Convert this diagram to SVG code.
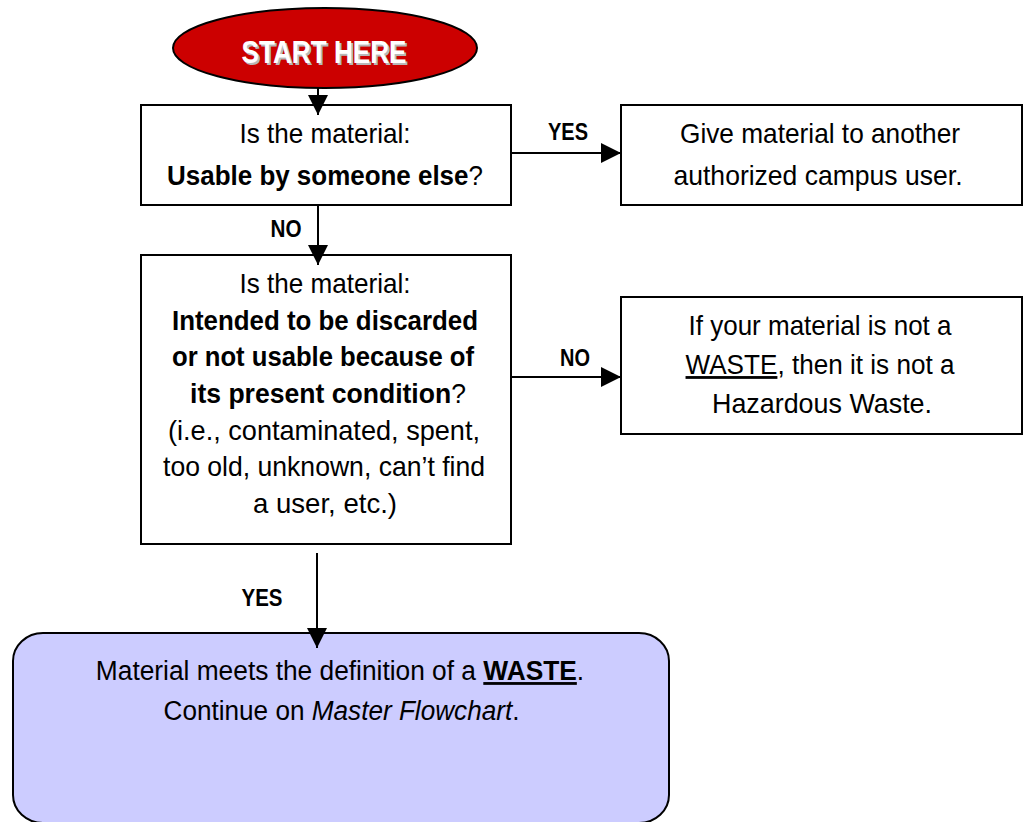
<svg xmlns="http://www.w3.org/2000/svg" width="1031" height="822" viewBox="0 0 1031 822">
<defs>
<marker id="arr" markerUnits="userSpaceOnUse" markerWidth="20" markerHeight="20" viewBox="0 0 20 20" refX="20" refY="10" orient="auto">
<path d="M0,0 L20,10 L0,20 z" fill="#000"/>
</marker>
<style>
.box{fill:#fff;stroke:#000;stroke-width:2}
.t{font-family:"Liberation Sans Narrow","Liberation Sans",Arial,sans-serif;font-size:28px;fill:#000;text-anchor:middle}
.b{font-weight:bold}
.i{font-style:italic}
.u{text-decoration:underline}
.lbl{font-family:"Liberation Sans Narrow","Liberation Sans",Arial,sans-serif;font-size:23px;font-weight:bold;fill:#000;text-anchor:middle}
.conn{stroke:#000;stroke-width:2;fill:none;marker-end:url(#arr)}
</style>
</defs>
<rect width="1031" height="822" fill="#fff"/>

<g id="start">
<ellipse cx="325" cy="48" rx="152" ry="40" fill="#CC0000" stroke="#000" stroke-width="2"/>
<text x="326" y="65" class="t b" style="font-size:32px;fill:#b8b8b8" textLength="165" lengthAdjust="spacingAndGlyphs">START HERE</text>
<text x="324" y="63" class="t b" style="font-size:32px;fill:#fff" textLength="165" lengthAdjust="spacingAndGlyphs">START HERE</text>
</g>

<g id="q1">
<rect class="box" x="141" y="105" width="370" height="100"/>
<text class="t" x="325" y="143" textLength="171" lengthAdjust="spacingAndGlyphs">Is the material:</text>
<text class="t" transform="translate(325,185) scale(0.927,1)" x="0" y="0"><tspan class="b">Usable by someone else</tspan>?</text>
</g>

<g id="give">
<rect class="box" x="621" y="105" width="401" height="100"/>
<text class="t" x="820" y="143" textLength="280" lengthAdjust="spacingAndGlyphs">Give material to another</text>
<text class="t" x="818" y="185" textLength="289" lengthAdjust="spacingAndGlyphs">authorized campus user.</text>
</g>

<g id="q2">
<rect class="box" x="141" y="255" width="370" height="289"/>
<text class="t" x="325" y="293" textLength="171" lengthAdjust="spacingAndGlyphs">Is the material:</text>
<text class="t b" x="325" y="330" textLength="306" lengthAdjust="spacingAndGlyphs">Intended to be discarded</text>
<text class="t b" x="323" y="366" textLength="302" lengthAdjust="spacingAndGlyphs">or not usable because of</text>
<text class="t" transform="translate(328,403) scale(0.949,1)" x="0" y="0"><tspan class="b">its present condition</tspan>?</text>
<text class="t" x="324" y="440" textLength="312" lengthAdjust="spacingAndGlyphs">(i.e., contaminated, spent,</text>
<text class="t" x="324" y="476" textLength="322" lengthAdjust="spacingAndGlyphs">too old, unknown, can’t find</text>
<text class="t" x="325" y="513" textLength="144" lengthAdjust="spacingAndGlyphs">a user, etc.)</text>
</g>

<g id="notwaste">
<rect class="box" x="621" y="297" width="401" height="137"/>
<text class="t" x="820" y="335" textLength="263" lengthAdjust="spacingAndGlyphs">If your material is not a</text>
<text class="t" transform="translate(820,374) scale(0.933,1)" x="0" y="0"><tspan class="u">WASTE</tspan>, then it is not a</text>
<text class="t" x="822" y="413" textLength="220" lengthAdjust="spacingAndGlyphs">Hazardous Waste.</text>
</g>

<g id="waste">
<rect x="13" y="633" width="656" height="190" rx="30" ry="28" fill="#CCCCFF" stroke="#000" stroke-width="2"/>
<text class="t" transform="translate(340,680) scale(0.94,1)" x="0" y="0">Material meets the definition of a <tspan class="b u">WASTE</tspan>.</text>
<text class="t" transform="translate(341.5,720) scale(0.934,1)" x="0" y="0">Continue on <tspan class="i">Master Flowchart</tspan>.</text>
</g>

<g id="connectors">
<line class="conn" x1="318" y1="88" x2="318" y2="115"/>
<line class="conn" x1="318" y1="205" x2="318" y2="265"/>
<line class="conn" x1="511" y1="153" x2="621" y2="153"/>
<line class="conn" x1="511" y1="377" x2="621" y2="377"/>
<line class="conn" x1="317" y1="553" x2="317" y2="648"/>
<text class="lbl" x="568" y="140" textLength="40" lengthAdjust="spacingAndGlyphs">YES</text>
<text class="lbl" x="286" y="237" textLength="31" lengthAdjust="spacingAndGlyphs">NO</text>
<text class="lbl" x="575" y="366" textLength="30" lengthAdjust="spacingAndGlyphs">NO</text>
<text class="lbl" x="262" y="606" textLength="41" lengthAdjust="spacingAndGlyphs">YES</text>
</g>
</svg>
